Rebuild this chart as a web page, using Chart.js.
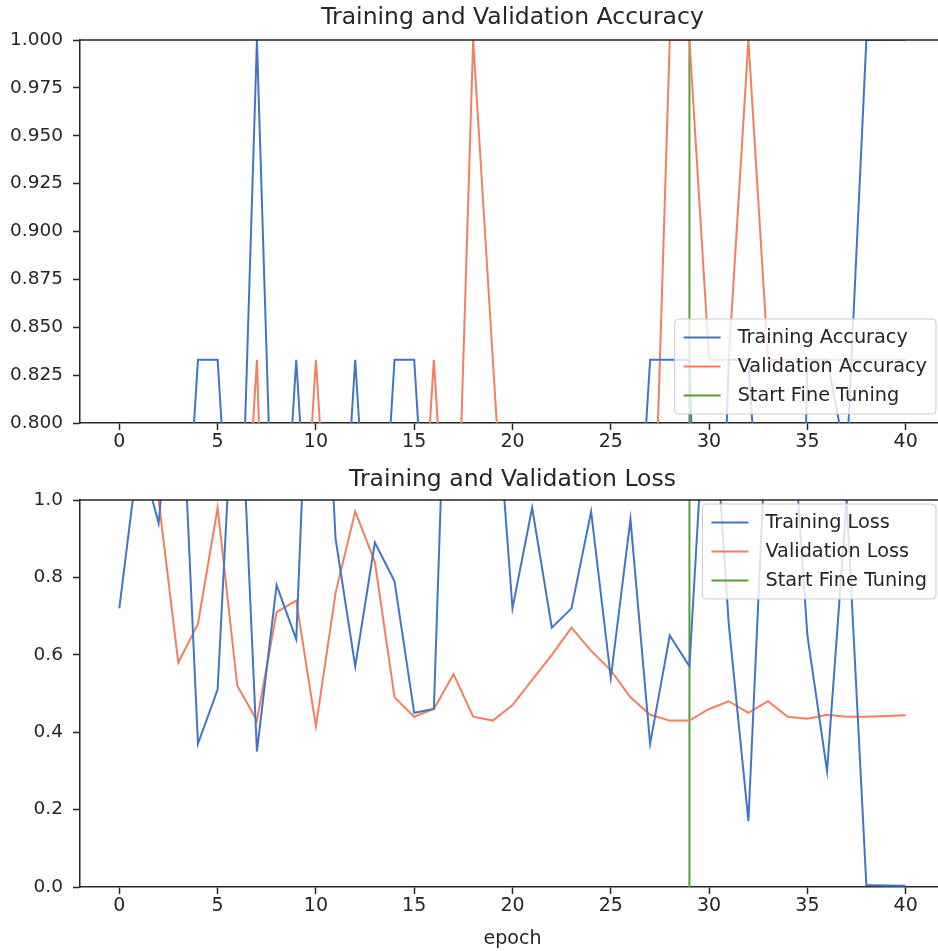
<!DOCTYPE html>
<html>
<head>
<meta charset="utf-8">
<script src="https://cdn.jsdelivr.net/npm/chart.js@4.4.1/dist/chart.umd.min.js"></script>
<style>
html, body { margin: 0; padding: 0; background: #fff; overflow: hidden; }
canvas { display: block; }
</style>
</head>
<body>
<canvas id="accChart" width="946" height="460"></canvas>
<canvas id="lossChart" width="946" height="491"></canvas>
<script>
// data
const epochs = [0, 1, 2, 3, 4, 5, 6, 7, 8, 9, 10, 11, 12, 13, 14, 15, 16, 17, 18, 19, 20,
    21, 22, 23, 24, 25, 26, 27, 28, 29, 30, 31, 32, 33, 34, 35, 36, 37, 38, 39, 40];

const trainAcc = [0.5, 0.333, 0.5, 0.667, 0.833, 0.833, 0.667, 1.0, 0.667, 0.833, 0.667,
    0.667, 0.833, 0.667, 0.833, 0.833, 0.667, 0.5, 0.5, 0.667, 0.5,
    0.667, 0.5, 0.667, 0.5, 0.667, 0.667, 0.833, 0.833, 0.833, 0.5,
    0.833, 0.833, 0.667, 0.333, 0.833, 0.833, 0.78, 1.0, 1.0, 1.0];
const valAcc = [0.5, 0.5, 0.667, 0.5, 0.667, 0.5, 0.667, 0.833, 0.5, 0.667, 0.833,
    0.667, 0.5, 0.5, 0.667, 0.667, 0.833, 0.667, 1.0, 0.833, 0.667,
    0.5, 0.5, 0.5, 0.667, 0.5, 0.667, 0.667, 1.0, 1.0, 0.833,
    0.833, 1.0, 0.833, 0.833, 0.833, 0.833, 0.833, 0.833, 0.833, 0.833];

const trainLoss = [0.72, 1.13, 0.94, 1.5, 0.37, 0.51, 1.5, 0.35, 0.78, 0.64, 1.9,
    0.9, 0.57, 0.89, 0.79, 0.45, 0.46, 2.0, 1.5, 1.4, 0.72,
    0.98, 0.67, 0.72, 0.97, 0.54, 0.95, 0.37, 0.65, 0.57, 1.45,
    0.68, 0.17, 1.3, 1.4, 0.65, 0.30, 1.0, 0.005, 0.004, 0.003];
const valLoss = [1.3, 1.1, 1.0, 0.58, 0.68, 0.98, 0.52, 0.43, 0.71, 0.74, 0.415,
    0.76, 0.97, 0.84, 0.49, 0.44, 0.46, 0.55, 0.44, 0.43, 0.47,
    0.535, 0.60, 0.67, 0.61, 0.56, 0.49, 0.445, 0.43, 0.43, 0.46,
    0.48, 0.45, 0.48, 0.44, 0.435, 0.445, 0.44, 0.44, 0.442, 0.444];

const fineTuneEpoch = 29;
const xTicks = [0, 5, 10, 15, 20, 25, 30, 35, 40];
const accTicks = [0.8, 0.825, 0.85, 0.875, 0.9, 0.925, 0.95, 0.975, 1.0];
const lossTicks = [0.0, 0.2, 0.4, 0.6, 0.8, 1.0];

const BLUE = '#4176c6';
const ORANGE = '#f47f60';
const GREEN = '#5a9e36';
const INK = '#262626';
const FONT = "'DejaVu Sans', sans-serif";

function points(values) {
    return epochs.map((e, i) => ({x: e, y: values[i]}));
}

function series(label, data, color) {
    return {label: label, data: data, borderColor: color, backgroundColor: color,
        borderWidth: 2, pointRadius: 0, tension: 0, clip: 0, fill: false};
}

// top + right spines and an axes-centred title, like matplotlib
const frame = {
    id: 'frame',
    afterDatasetsDraw(chart, args, opts) {
        const {ctx, chartArea: a} = chart;
        ctx.save();
        ctx.strokeStyle = INK;
        ctx.lineWidth = 1.5;
        ctx.beginPath();
        ctx.moveTo(a.left, a.top);
        ctx.lineTo(a.right, a.top);
        ctx.lineTo(a.right, a.bottom);
        ctx.stroke();
        ctx.fillStyle = INK;
        ctx.font = '23.5px ' + FONT;
        ctx.textAlign = 'center';
        ctx.textBaseline = 'middle';
        ctx.fillText(opts.title, (a.left + a.right) / 2, opts.titleY);
        ctx.restore();
    }
};

// legend box inside the axes
const boxLegend = {
    id: 'boxLegend',
    afterDraw(chart, args, opts) {
        const {ctx, chartArea: a} = chart;
        const sets = chart.data.datasets;
        const fs = 19.3, pad = 9, handle = 37, gap = 17, rowH = 29;
        ctx.save();
        ctx.font = fs + 'px ' + FONT;
        const textW = Math.max(...sets.map(d => ctx.measureText(d.label).width));
        const w = pad + handle + gap + textW + pad;
        const h = rowH * sets.length + 8;
        const x = a.right - 9 - w;
        const y = opts.where === 'lower' ? a.bottom - 9 - h : a.top + 4;
        ctx.beginPath();
        ctx.roundRect(x, y, w, h, 4);
        ctx.fillStyle = 'rgba(255,255,255,0.8)';
        ctx.fill();
        ctx.strokeStyle = '#cccccc';
        ctx.lineWidth = 1;
        ctx.stroke();
        sets.forEach((d, i) => {
            const cy = y + 4 + rowH * (i + 0.5);
            ctx.strokeStyle = d.borderColor;
            ctx.lineWidth = 2;
            ctx.beginPath();
            ctx.moveTo(x + pad, cy);
            ctx.lineTo(x + pad + handle, cy);
            ctx.stroke();
            ctx.fillStyle = INK;
            ctx.textBaseline = 'middle';
            ctx.fillText(d.label, x + pad + handle + gap, cy);
        });
        ctx.restore();
    }
};

function makeChart(id, cfg) {
    const xAxis = {
        type: 'linear', min: -2, max: 42,
        afterBuildTicks: s => { s.ticks = xTicks.map(v => ({value: v})); },
        afterFit: s => { s.height = cfg.xHeight; },
        grid: {drawOnChartArea: false, drawTicks: true, tickLength: 7, tickWidth: 1.5, color: INK},
        border: {display: true, color: INK, width: 1.5},
        ticks: {color: INK, font: {family: FONT, size: 19}, padding: 1, maxRotation: 0},
        title: {display: !!cfg.xTitle, text: cfg.xTitle || '', color: INK,
            font: {family: FONT, size: 19}, padding: {top: 0, bottom: 1}}
    };
    const yAxis = {
        type: 'linear', min: cfg.yTicks[0], max: cfg.yTicks[cfg.yTicks.length - 1],
        afterBuildTicks: s => { s.ticks = cfg.yTicks.map(v => ({value: v})); },
        afterFit: s => { s.width = 80; },
        grid: {drawOnChartArea: false, drawTicks: true, tickLength: 7, tickWidth: 1.5, color: INK},
        border: {display: true, color: INK, width: 1.5},
        ticks: {color: INK, font: {family: FONT, size: 18.5}, padding: 10,
            callback: v => v.toFixed(cfg.decimals)}
    };
    return new Chart(document.getElementById(id), {
        type: 'line',
        data: {datasets: cfg.datasets},
        options: {
            responsive: false,
            animation: false,
            layout: {padding: {left: 0, right: 1, top: 40, bottom: 0}},
            scales: {x: xAxis, y: yAxis},
            plugins: {
                legend: {display: false},
                tooltip: {enabled: false},
                title: {display: false},
                frame: {title: cfg.title, titleY: cfg.titleY},
                boxLegend: {where: cfg.legendWhere}
            }
        },
        plugins: [frame, boxLegend]
    });
}

makeChart('accChart', {
    title: 'Training and Validation Accuracy',
    titleY: 18,
    xHeight: 37,
    yTicks: accTicks,
    decimals: 3,
    legendWhere: 'lower',
    datasets: [
        series('Training Accuracy', points(trainAcc), BLUE),
        series('Validation Accuracy', points(valAcc), ORANGE),
        series('Start Fine Tuning', [{x: fineTuneEpoch, y: accTicks[0]},
            {x: fineTuneEpoch, y: accTicks[accTicks.length - 1]}], GREEN)
    ]
});

makeChart('lossChart', {
    title: 'Training and Validation Loss',
    titleY: 20,
    xHeight: 64,
    xTitle: 'epoch',
    yTicks: lossTicks,
    decimals: 1,
    legendWhere: 'upper',
    datasets: [
        series('Training Loss', points(trainLoss), BLUE),
        series('Validation Loss', points(valLoss), ORANGE),
        series('Start Fine Tuning', [{x: fineTuneEpoch, y: lossTicks[0]},
            {x: fineTuneEpoch, y: lossTicks[lossTicks.length - 1]}], GREEN)
    ]
});
</script>
</body>
</html>
